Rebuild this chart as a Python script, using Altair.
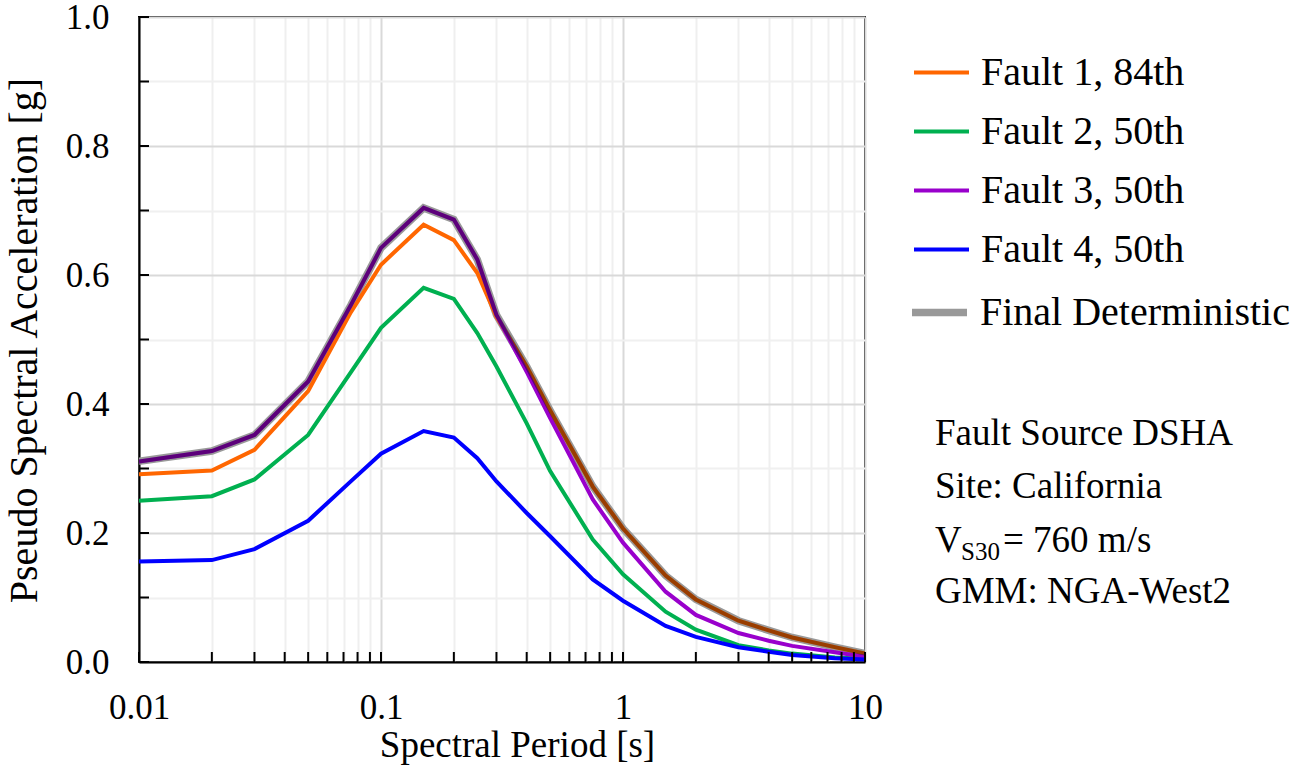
import altair as alt
import pandas as pd

# ---------------- data ----------------
periods = [0.01, 0.02, 0.03, 0.05, 0.075, 0.1, 0.15, 0.2, 0.25, 0.3, 0.4, 0.5,
           0.75, 1.0, 1.5, 2.0, 3.0, 4.0, 5.0, 7.5, 10.0]

fault1_84 = [0.291, 0.297, 0.329, 0.420, 0.542, 0.616, 0.678, 0.654, 0.603, 0.535, 0.458,
             0.390, 0.272, 0.207, 0.134, 0.097, 0.064, 0.049, 0.038, 0.023, 0.013]
fault2_50 = [0.250, 0.257, 0.283, 0.352, 0.449, 0.518, 0.580, 0.563, 0.510, 0.458, 0.370,
             0.296, 0.190, 0.136, 0.078, 0.050, 0.026, 0.018, 0.013, 0.007, 0.005]
fault3_50 = [0.311, 0.327, 0.352, 0.435, 0.553, 0.642, 0.704, 0.686, 0.624, 0.538, 0.450,
             0.378, 0.252, 0.185, 0.109, 0.073, 0.045, 0.033, 0.025, 0.015, 0.008]
fault4_50 = [0.156, 0.158, 0.175, 0.219, 0.280, 0.323, 0.358, 0.348, 0.316, 0.280, 0.231,
             0.195, 0.128, 0.095, 0.056, 0.039, 0.023, 0.016, 0.011, 0.006, 0.004]
final_det = [0.311, 0.327, 0.352, 0.435, 0.553, 0.642, 0.704, 0.686, 0.624, 0.538, 0.458,
             0.390, 0.272, 0.207, 0.134, 0.097, 0.064, 0.049, 0.038, 0.023, 0.013]

fault_names = ["Fault 1, 84th", "Fault 2, 50th", "Fault 3, 50th", "Fault 4, 50th"]
final_name = "Final Deterministic"
fault_colors = ["#FF6600", "#00B050", "#9900CC", "#0000FF"]
final_color = "#999999"

x_major = [0.01, 0.1, 1, 10]
x_grid = [round(m * 10 ** e, 6) for e in (-2, -1, 0) for m in range(1, 10)] + [10]
y_grid = [round(i * 0.1, 1) for i in range(11)]

annotation_lines = ["Fault Source DSHA", "Site: California", "GMM: NGA-West2"]

rows = []
for name, vals in zip(fault_names + [final_name],
                      [fault1_84, fault2_50, fault3_50, fault4_50, final_det]):
    for t, v in zip(periods, vals):
        rows.append({"period": t, "psa": v, "series": name})
df = pd.DataFrame(rows)

# ---------------- chart ----------------
W, H = 726, 645
FONT = "Liberation Serif"
FAULT_W, FINAL_W = 4, 7.5

major_list = "[" + ",".join(str(v) for v in x_major) + "]"

x_enc = alt.X(
    "period:Q",
    scale=alt.Scale(type="log", domain=[0.01, 10], nice=False),
    axis=alt.Axis(
        values=x_grid,
        labelExpr=f"indexof({major_list}, datum.value) >= 0 ? '' + datum.value : ''",
        labelFlush=False,
        title="Spectral Period [s]",
        titleX=378,
        titlePadding=2,
        labelPadding=28,
        gridColor={"condition": {"test": f"indexof({major_list}, datum.value) >= 0",
                                 "value": "#D9D9D9"},
                   "value": "#EFEFEF"},
    ),
)
y_enc = alt.Y(
    "psa:Q",
    scale=alt.Scale(domain=[0, 1], nice=False, zero=True),
    axis=alt.Axis(
        values=y_grid,
        labelExpr="round(datum.value*10) % 2 == 0 ? format(datum.value, '.1f') : ''",
        labelFlush=False,
        title="Pseudo Spectral Acceleration [g]",
        titleY=323,
        titlePadding=21,
        labelPadding=30,
        titleFontSize=40,
        gridColor={"condition": {"test": "round(datum.value*10) % 2 == 0",
                                 "value": "#D9D9D9"},
                   "value": "#F0F0F0"},
    ),
)

legend_common = dict(
    title=None, orient="none",
    symbolType="stroke", symbolSize=3025,
    labelFont=FONT, labelFontSize=40, labelColor="black", labelLimit=500,
    rowPadding=9, padding=0,
)

base = alt.Chart(df)

# wide grey envelope underneath
final_under = base.transform_filter(
    f"datum.series == '{final_name}'"
).mark_line(clip=True, strokeWidth=FINAL_W).encode(
    x=x_enc, y=y_enc,
    color=alt.Color("series:N",
                    scale=alt.Scale(domain=[final_name], range=[final_color]),
                    legend=alt.Legend(legendX=769, legendY=264, labelOffset=9,
                                      symbolStrokeWidth=FINAL_W, **legend_common)),
)

faults = base.transform_filter(
    f"datum.series != '{final_name}'"
).mark_line(clip=True, strokeWidth=FAULT_W).encode(
    x=x_enc, y=y_enc,
    color=alt.Color("series:N",
                    scale=alt.Scale(domain=fault_names, range=fault_colors),
                    legend=alt.Legend(legendX=773, legendY=26, labelOffset=10,
                                      symbolStrokeWidth=FAULT_W, **legend_common)),
)

# darkening overlay of the envelope (mimics the grey line drawn over the colours)
final_over = base.transform_filter(
    f"datum.series == '{final_name}'"
).mark_line(clip=True, color="black", opacity=0.4, strokeWidth=FAULT_W).encode(
    x=x_enc, y=y_enc,
)

x_ticks = alt.Chart(pd.DataFrame({"period": x_grid})).mark_rule(
    color="black", strokeWidth=2
).encode(x=x_enc, y=alt.value(H), y2=alt.value(H - 10))

y_ticks = alt.Chart(pd.DataFrame({"psa": y_grid})).mark_rule(
    color="black", strokeWidth=2
).encode(y=y_enc, x=alt.value(0), x2=alt.value(10))

ann_x = 796
ann_layers = []
for line, yb in zip(annotation_lines, [428, 481, 586]):
    ann_layers.append(
        alt.Chart(pd.DataFrame({"label": [line]})).mark_text(
            align="left", baseline="alphabetic", font=FONT, fontSize=37, color="black"
        ).encode(text="label:N", x=alt.value(ann_x), y=alt.value(yb))
    )
# V_S30 line built from pieces (subscript)
vs_parts = [("V", 0, 535, 37), ("S30", 26, 543, 25), ("= 760 m/s", 68, 535, 37)]
for txt, dx, yb, fs in vs_parts:
    ann_layers.append(
        alt.Chart(pd.DataFrame({"label": [txt]})).mark_text(
            align="left", baseline="alphabetic", font=FONT, fontSize=fs, color="black"
        ).encode(text="label:N", x=alt.value(ann_x + dx), y=alt.value(yb))
    )

chart = alt.layer(final_under, faults, final_over, x_ticks, y_ticks, *ann_layers).resolve_scale(
    color="independent"
).properties(
    width=W, height=H,
    padding={"left": 139, "top": 17, "right": 429, "bottom": 112},
    autosize="none",
    background="white",
).configure_view(
    stroke="black", strokeWidth=2
).configure_axis(
    domainColor="black", domainWidth=2, ticks=False,
    gridWidth=2,
    labelFont=FONT, labelFontSize=35, labelColor="black",
    titleFont=FONT, titleFontSize=37, titleFontWeight="normal", titleColor="black",
)

chart.save("out.html", embed_options={"renderer": "svg", "actions": False})
